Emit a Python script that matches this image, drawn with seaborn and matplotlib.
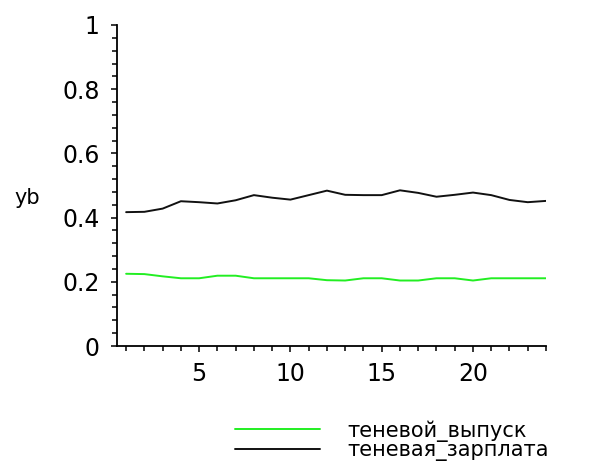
import matplotlib
matplotlib.use("Agg")
import matplotlib.pyplot as plt
from matplotlib.ticker import MultipleLocator, FixedLocator
import numpy as np
import pandas as pd
import seaborn as sns

# Periods and the two shadow-economy series
periods = list(range(1, 25))
shadow_output = [0.225, 0.224, 0.217, 0.211, 0.211, 0.219, 0.219, 0.211,
                 0.211, 0.211, 0.211, 0.205, 0.204, 0.211, 0.211, 0.204,
                 0.204, 0.211, 0.211, 0.204, 0.211, 0.211, 0.211, 0.211]
shadow_wage = [0.417, 0.418, 0.428, 0.451, 0.448, 0.444, 0.454, 0.470,
               0.462, 0.456, 0.470, 0.484, 0.471, 0.470, 0.470, 0.485,
               0.477, 0.465, 0.471, 0.478, 0.470, 0.455, 0.448, 0.452]
series_names = ["теневой_выпуск", "теневая_зарплата"]
series_colors = ["#22ee22", "#111111"]
y_ticks = [0, 0.2, 0.4, 0.6, 0.8, 1]
y_tick_labels = ["0", "0.2", "0.4", "0.6", "0.8", "1"]
x_ticks = [5, 10, 15, 20]

df = pd.DataFrame({
    "t": periods * 2,
    "yb": shadow_output + shadow_wage,
    "series": [series_names[0]] * len(periods) + [series_names[1]] * len(periods),
})

sns.set_style("white")
plt.rcParams["font.family"] = ["DejaVu Sans"]
plt.rcParams["text.color"] = "black"

fig = plt.figure(figsize=(6.02, 4.70), dpi=100)
ax = fig.add_axes([117 / 602, 1 - 346 / 470, (546 - 117) / 602, (346 - 25) / 470])

sns.lineplot(data=df, x="t", y="yb", hue="series", hue_order=series_names,
             palette=dict(zip(series_names, series_colors)), linewidth=1.4,
             ax=ax, legend=False)

ax.set_xlim(0.5, 24)
ax.set_ylim(0, 1)

for side in ("top", "right"):
    ax.spines[side].set_visible(False)
for side in ("left", "bottom"):
    ax.spines[side].set_color("black")
    ax.spines[side].set_linewidth(1.3)

ax.yaxis.set_major_locator(FixedLocator(y_ticks))
ax.set_yticklabels(y_tick_labels)
ax.yaxis.set_minor_locator(MultipleLocator(0.04))
ax.xaxis.set_major_locator(FixedLocator(x_ticks))
ax.set_xticklabels([str(v) for v in x_ticks])
ax.xaxis.set_minor_locator(MultipleLocator(1))

ax.tick_params(which="both", direction="out", color="black", width=1.1,
               bottom=True, left=True)
ax.tick_params(which="major", length=4.5, labelsize=17, colors="black")
ax.tick_params(which="minor", length=3.5)
ax.tick_params(axis="y", which="major", pad=8)
ax.tick_params(axis="x", which="major", pad=7)

ax.set_xlabel("")
ax.set_ylabel("yb", rotation=0, fontsize=15, color="black")
ax.yaxis.set_label_coords(-0.21, 0.43)

handles = [plt.Line2D([], [], color=c, linewidth=1.4) for c in series_colors]
fig.legend(handles, series_names, loc="upper left",
           bbox_to_anchor=(235 / 602, 1 - 420 / 470), frameon=False,
           fontsize=15, handlelength=4.1, handletextpad=1.3,
           labelspacing=-0.05, borderpad=0, borderaxespad=0,
           labelcolor="black")

fig.savefig("out.png", dpi=100, facecolor="white")
